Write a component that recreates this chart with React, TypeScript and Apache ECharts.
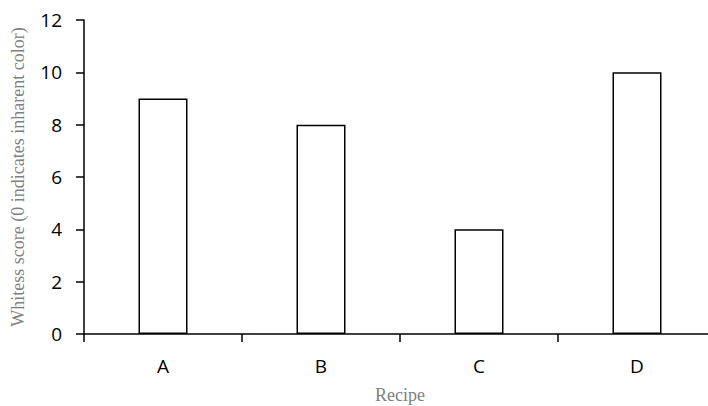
import React, { useEffect, useRef } from "react";
import * as echarts from "echarts";

const categories = ["A", "B", "C", "D"];
const scores = [9, 8, 4, 10];
const yTicks = [0, 2, 4, 6, 8, 10, 12];

export default function App() {
  const ref = useRef<HTMLDivElement>(null);
  useEffect(() => {
    const chart = echarts.init(ref.current!, null, { renderer: "svg" });
    chart.setOption({
      animation: false,
      backgroundColor: "#ffffff",
      grid: {
        left: 84,
        top: 20,
        width: 632,
        height: 314,
        containLabel: false,
        outerBoundsMode: "none",
      },
      xAxis: {
        type: "category",
        data: categories,
        name: "Recipe",
        nameLocation: "middle",
        nameGap: 52,
        nameTextStyle: { fontFamily: "Liberation Serif", fontSize: 18, color: "#7f7f7f" },
        axisLine: { lineStyle: { color: "#000", width: 1.5 } },
        axisTick: { show: true, length: 8, alignWithLabel: false, lineStyle: { color: "#000", width: 1.5 } },
        axisLabel: { color: "#000", fontFamily: "Open Sans", fontSize: 19, margin: 22 },
      },
      yAxis: {
        type: "value",
        min: yTicks[0],
        max: yTicks[yTicks.length - 1],
        interval: 2,
        name: "Whitess score (0 indicates inharent color)",
        nameLocation: "middle",
        nameGap: 57,
        nameTextStyle: { fontFamily: "Liberation Serif", fontSize: 18, color: "#7f7f7f" },
        axisLine: { show: true, lineStyle: { color: "#000", width: 1.5 } },
        axisTick: { show: true, length: 8, lineStyle: { color: "#000", width: 1.5 } },
        axisLabel: { color: "#000", fontFamily: "Open Sans", fontSize: 19, margin: 22 },
        splitLine: { show: false },
      },
      series: [
        {
          type: "bar",
          data: scores,
          barWidth: 49,
          itemStyle: { color: "#ffffff", borderColor: "#000", borderWidth: 1.5 },
        },
      ],
    });
    return () => chart.dispose();
  }, []);
  return (
    <div
      ref={ref}
      style={{ position: "absolute", left: 0, top: 0, width: 708, height: 406 }}
    />
  );
}
